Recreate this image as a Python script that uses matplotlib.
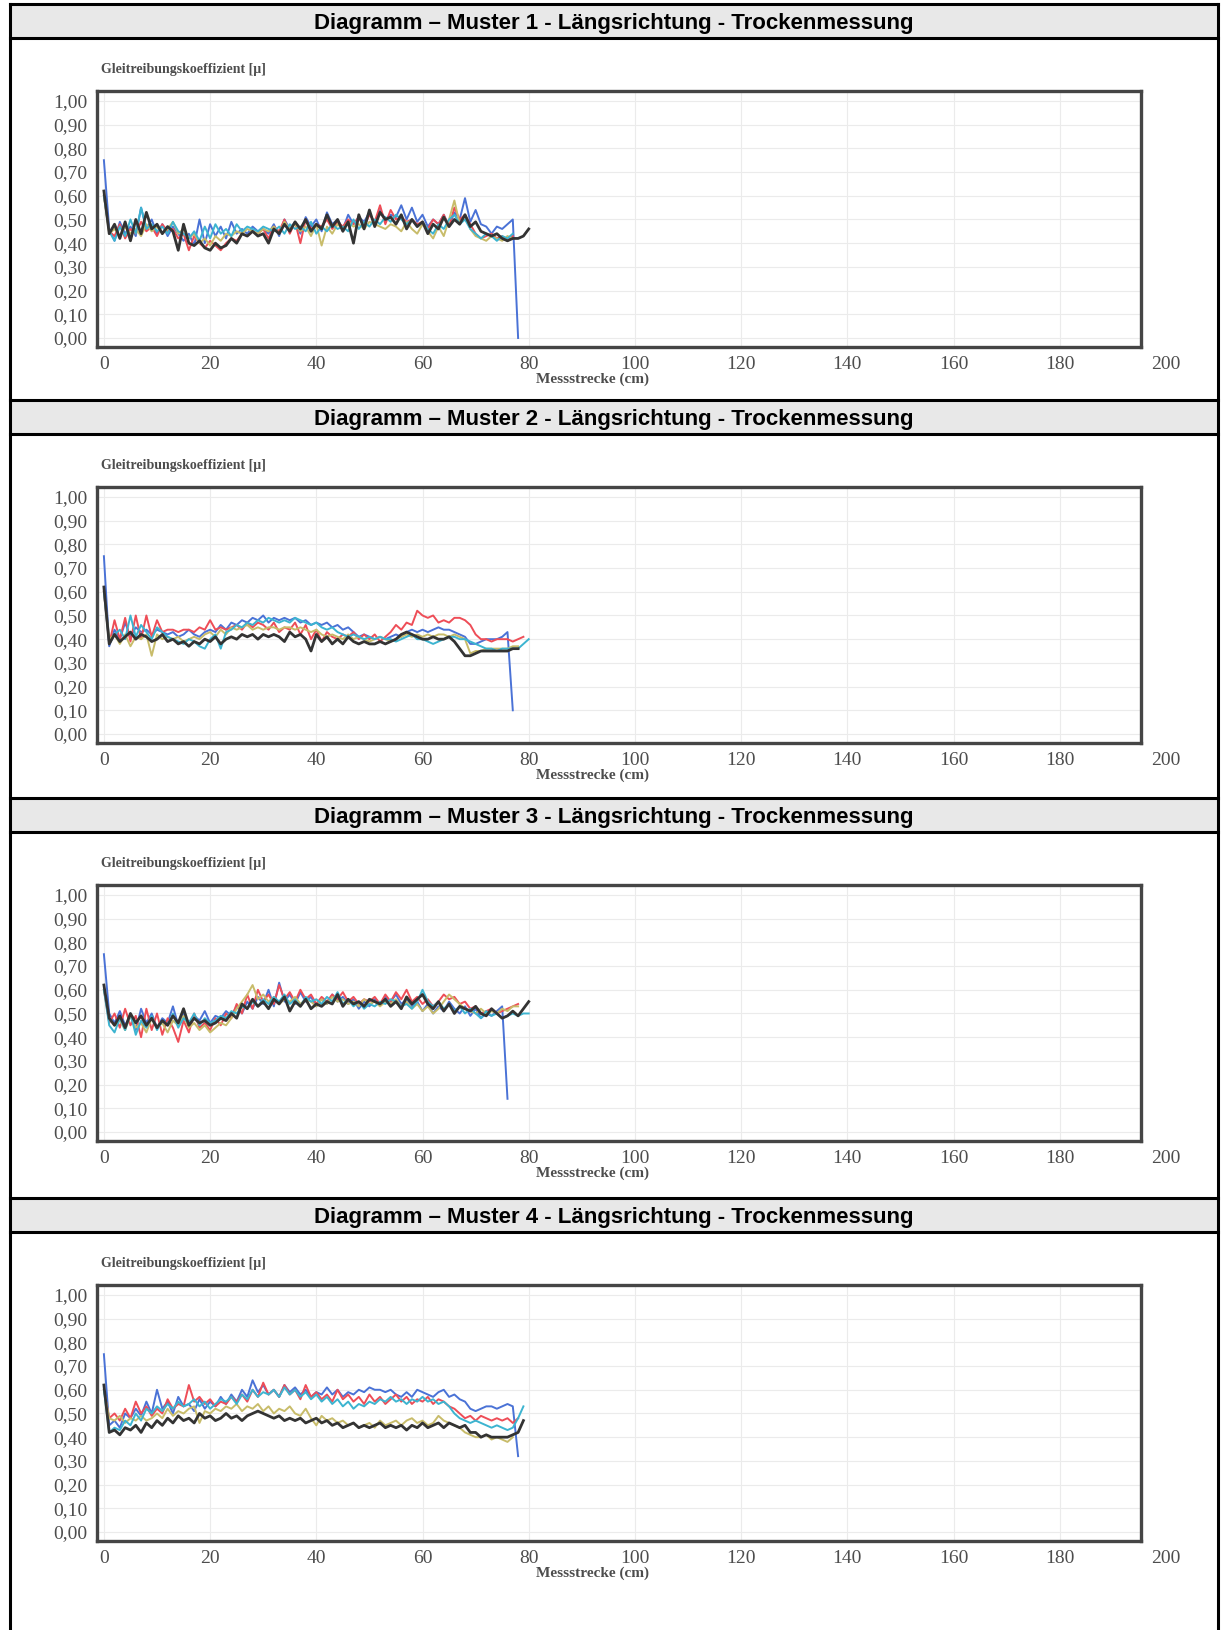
import numpy as np
import matplotlib
matplotlib.use("Agg")
import matplotlib.pyplot as plt
from matplotlib.patches import Rectangle
from matplotlib.lines import Line2D

# ---- data (1 cm steps) ----
titles = ["Diagramm \u2013 Muster 1 - L\u00e4ngsrichtung - Trockenmessung",
          "Diagramm \u2013 Muster 2 - L\u00e4ngsrichtung - Trockenmessung",
          "Diagramm \u2013 Muster 3 - L\u00e4ngsrichtung - Trockenmessung",
          "Diagramm \u2013 Muster 4 - L\u00e4ngsrichtung - Trockenmessung"]
y_title = "Gleitreibungskoeffizient [\u00b5]"
x_title = "Messstrecke (cm)"
x_ticks = [0, 20, 40, 60, 80, 100, 120, 140, 160, 180, 200]
y_ticks = [0.0, 0.1, 0.2, 0.3, 0.4, 0.5, 0.6, 0.7, 0.8, 0.9, 1.0]
y_ticklabels = ["0,00", "0,10", "0,20", "0,30", "0,40", "0,50",
                "0,60", "0,70", "0,80", "0,90", "1,00"]

# Muster 1
blue1 = [0.75,0.46,0.41,0.49,0.44,0.47,0.43,0.55,0.46,0.50,
         0.44,0.48,0.43,0.47,0.44,0.41,0.44,0.39,0.50,0.40,
         0.48,0.43,0.47,0.42,0.49,0.44,0.46,0.44,0.47,0.45,
         0.46,0.44,0.48,0.43,0.50,0.46,0.49,0.44,0.51,0.47,
         0.50,0.45,0.53,0.48,0.50,0.46,0.52,0.48,0.51,0.49,
         0.53,0.48,0.54,0.50,0.52,0.51,0.56,0.50,0.55,0.49,
         0.52,0.47,0.50,0.48,0.52,0.47,0.53,0.50,0.59,0.49,
         0.54,0.48,0.47,0.44,0.47,0.46,0.48,0.50,0.00]
red1 = [0.60,0.45,0.43,0.48,0.42,0.46,0.44,0.49,0.45,0.47,
        0.43,0.48,0.45,0.46,0.42,0.44,0.37,0.43,0.40,0.38,
        0.41,0.39,0.37,0.40,0.42,0.41,0.44,0.43,0.45,0.44,
        0.46,0.42,0.47,0.45,0.50,0.44,0.49,0.40,0.50,0.46,
        0.48,0.47,0.50,0.46,0.49,0.47,0.50,0.48,0.51,0.47,
        0.52,0.49,0.56,0.48,0.54,0.50,0.51,0.49,0.50,0.48,
        0.49,0.46,0.50,0.48,0.52,0.47,0.55,0.50,0.52,0.48,
        0.44,0.42,0.43,0.44,0.42,0.43,0.41,0.43]
yellow1 = [0.60,0.44,0.46,0.43,0.47,0.44,0.46,0.43,0.48,0.45,
           0.47,0.44,0.46,0.49,0.44,0.46,0.42,0.44,0.40,0.42,
           0.39,0.43,0.41,0.44,0.43,0.45,0.44,0.46,0.45,0.44,
           0.46,0.45,0.47,0.44,0.49,0.46,0.48,0.45,0.47,0.43,
           0.48,0.39,0.47,0.44,0.48,0.46,0.49,0.47,0.48,0.46,
           0.49,0.48,0.47,0.46,0.48,0.47,0.45,0.49,0.46,0.44,
           0.48,0.45,0.42,0.47,0.43,0.50,0.58,0.48,0.52,0.46,
           0.43,0.42,0.41,0.43,0.42,0.41,0.43,0.42]
cyan1 = [0.60,0.45,0.41,0.47,0.43,0.50,0.44,0.55,0.46,0.48,
         0.45,0.47,0.44,0.49,0.45,0.44,0.42,0.45,0.41,0.47,
         0.42,0.48,0.44,0.46,0.43,0.48,0.45,0.47,0.46,0.45,
         0.47,0.46,0.45,0.47,0.44,0.48,0.46,0.47,0.45,0.49,
         0.44,0.47,0.45,0.48,0.46,0.47,0.45,0.50,0.46,0.49,
         0.47,0.50,0.48,0.51,0.49,0.52,0.50,0.48,0.50,0.47,
         0.49,0.46,0.44,0.48,0.46,0.50,0.52,0.48,0.50,0.46,
         0.44,0.42,0.44,0.43,0.41,0.43,0.42,0.44]
black1 = [0.62,0.44,0.48,0.42,0.49,0.41,0.50,0.44,0.53,0.46,
          0.48,0.44,0.47,0.45,0.37,0.48,0.40,0.39,0.41,0.38,
          0.37,0.40,0.38,0.39,0.42,0.40,0.44,0.43,0.45,0.43,
          0.44,0.40,0.46,0.44,0.48,0.45,0.49,0.46,0.50,0.45,
          0.48,0.46,0.52,0.47,0.50,0.45,0.49,0.40,0.52,0.46,
          0.54,0.47,0.53,0.50,0.51,0.48,0.52,0.46,0.50,0.47,
          0.49,0.44,0.48,0.46,0.51,0.47,0.50,0.48,0.52,0.47,
          0.49,0.45,0.44,0.43,0.44,0.42,0.41,0.42,0.42,0.43,
          0.46]

# Muster 2
blue2 = [0.75,0.37,0.44,0.40,0.47,0.41,0.45,0.43,0.44,0.42,
         0.44,0.43,0.42,0.43,0.41,0.42,0.44,0.42,0.41,0.43,
         0.44,0.43,0.46,0.44,0.47,0.46,0.48,0.47,0.49,0.48,
         0.50,0.47,0.49,0.48,0.49,0.48,0.49,0.47,0.48,0.46,
         0.47,0.46,0.47,0.45,0.46,0.44,0.45,0.43,0.41,0.42,
         0.41,0.40,0.41,0.40,0.41,0.42,0.41,0.43,0.44,0.43,
         0.44,0.43,0.44,0.45,0.44,0.44,0.43,0.42,0.41,0.38,
         0.38,0.39,0.40,0.40,0.40,0.41,0.43,0.10]
red2 = [0.60,0.38,0.48,0.40,0.49,0.39,0.50,0.40,0.50,0.41,
        0.48,0.43,0.44,0.44,0.43,0.44,0.44,0.43,0.45,0.44,
        0.48,0.44,0.45,0.44,0.45,0.46,0.44,0.47,0.45,0.47,
        0.46,0.44,0.47,0.43,0.45,0.44,0.47,0.42,0.46,0.40,
        0.44,0.39,0.43,0.41,0.40,0.42,0.41,0.43,0.40,0.42,
        0.40,0.42,0.39,0.41,0.43,0.46,0.44,0.47,0.46,0.52,
        0.50,0.49,0.50,0.47,0.48,0.47,0.49,0.49,0.48,0.46,
        0.42,0.40,0.40,0.39,0.40,0.40,0.40,0.39,0.40,0.41]
yellow2 = [0.60,0.40,0.42,0.38,0.42,0.37,0.41,0.40,0.42,0.33,
           0.42,0.40,0.41,0.40,0.41,0.39,0.40,0.41,0.40,0.42,
           0.43,0.41,0.44,0.42,0.45,0.44,0.45,0.46,0.44,0.45,
           0.44,0.45,0.45,0.44,0.45,0.45,0.44,0.45,0.44,0.43,
           0.44,0.42,0.41,0.42,0.41,0.40,0.42,0.40,0.41,0.40,
           0.39,0.40,0.41,0.40,0.39,0.40,0.41,0.42,0.41,0.42,
           0.41,0.42,0.41,0.42,0.42,0.41,0.42,0.41,0.40,0.34,
           0.35,0.35,0.36,0.36,0.36,0.36,0.36,0.37,0.37]
cyan2 = [0.60,0.38,0.42,0.44,0.40,0.50,0.41,0.46,0.43,0.40,
         0.45,0.43,0.41,0.40,0.39,0.38,0.40,0.39,0.37,0.36,
         0.40,0.42,0.36,0.43,0.44,0.46,0.45,0.47,0.46,0.48,
         0.47,0.49,0.48,0.47,0.48,0.47,0.49,0.48,0.47,0.46,
         0.47,0.45,0.44,0.45,0.43,0.42,0.41,0.42,0.41,0.40,
         0.41,0.40,0.41,0.40,0.40,0.39,0.40,0.41,0.42,0.40,
         0.40,0.39,0.38,0.39,0.40,0.41,0.41,0.40,0.40,0.39,
         0.38,0.37,0.36,0.36,0.35,0.36,0.36,0.36,0.36,0.38,
         0.40]
black2 = [0.62,0.38,0.42,0.39,0.41,0.43,0.40,0.42,0.41,0.39,
          0.40,0.42,0.39,0.40,0.38,0.39,0.37,0.39,0.38,0.40,
          0.39,0.41,0.38,0.40,0.41,0.40,0.42,0.41,0.42,0.40,
          0.42,0.41,0.42,0.41,0.39,0.43,0.41,0.42,0.40,0.35,
          0.42,0.39,0.41,0.38,0.40,0.38,0.41,0.39,0.38,0.39,
          0.38,0.38,0.39,0.38,0.39,0.40,0.42,0.43,0.42,0.41,
          0.40,0.40,0.41,0.40,0.40,0.41,0.39,0.36,0.33,0.33,
          0.34,0.35,0.35,0.35,0.35,0.35,0.35,0.36,0.36]

# Muster 3
blue3 = [0.75,0.50,0.46,0.51,0.45,0.49,0.43,0.52,0.46,0.50,
         0.44,0.48,0.46,0.53,0.45,0.50,0.46,0.49,0.47,0.51,
         0.46,0.49,0.48,0.51,0.49,0.53,0.50,0.55,0.52,0.57,
         0.54,0.60,0.53,0.63,0.55,0.58,0.54,0.59,0.55,0.57,
         0.53,0.56,0.54,0.58,0.55,0.57,0.54,0.56,0.52,0.55,
         0.53,0.56,0.54,0.57,0.55,0.58,0.54,0.56,0.53,0.55,
         0.51,0.54,0.50,0.53,0.51,0.55,0.52,0.50,0.53,0.49,
         0.52,0.48,0.50,0.49,0.51,0.53,0.14]
red3 = [0.60,0.46,0.50,0.44,0.52,0.45,0.49,0.40,0.52,0.43,
        0.50,0.41,0.48,0.44,0.38,0.47,0.42,0.50,0.44,0.46,
        0.43,0.48,0.45,0.50,0.48,0.54,0.50,0.58,0.52,0.60,
        0.55,0.58,0.54,0.62,0.56,0.59,0.55,0.60,0.56,0.58,
        0.54,0.57,0.55,0.58,0.56,0.59,0.55,0.57,0.54,0.56,
        0.55,0.57,0.54,0.58,0.55,0.59,0.56,0.60,0.55,0.57,
        0.54,0.56,0.53,0.55,0.58,0.56,0.57,0.54,0.55,0.52,
        0.53,0.50,0.51,0.52,0.50,0.51,0.52,0.53,0.54]
yellow3 = [0.60,0.48,0.45,0.47,0.43,0.49,0.44,0.46,0.42,0.48,
           0.44,0.46,0.42,0.47,0.45,0.49,0.44,0.46,0.43,0.45,
           0.42,0.44,0.46,0.45,0.48,0.52,0.55,0.58,0.62,0.56,
           0.58,0.55,0.57,0.54,0.56,0.55,0.57,0.54,0.56,0.55,
           0.53,0.56,0.54,0.57,0.55,0.56,0.54,0.55,0.53,0.56,
           0.54,0.55,0.53,0.55,0.54,0.56,0.53,0.55,0.52,0.54,
           0.51,0.53,0.50,0.52,0.55,0.58,0.56,0.54,0.52,0.51,
           0.50,0.52,0.50,0.51,0.50,0.52,0.51,0.53,0.53]
cyan3 = [0.60,0.45,0.42,0.48,0.43,0.50,0.41,0.47,0.44,0.49,
         0.43,0.47,0.45,0.50,0.44,0.48,0.46,0.50,0.45,0.48,
         0.46,0.47,0.49,0.48,0.51,0.50,0.53,0.52,0.55,0.53,
         0.56,0.54,0.57,0.55,0.58,0.54,0.56,0.53,0.57,0.55,
         0.56,0.54,0.57,0.55,0.59,0.54,0.56,0.53,0.55,0.52,
         0.54,0.53,0.55,0.54,0.56,0.55,0.53,0.54,0.52,0.55,
         0.60,0.55,0.53,0.55,0.52,0.54,0.51,0.53,0.50,0.52,
         0.50,0.48,0.51,0.49,0.50,0.48,0.49,0.50,0.49,0.50,
         0.50]
black3 = [0.62,0.48,0.45,0.49,0.44,0.50,0.46,0.49,0.45,0.48,
          0.44,0.47,0.45,0.49,0.46,0.52,0.45,0.48,0.46,0.47,
          0.45,0.46,0.48,0.47,0.50,0.48,0.54,0.52,0.56,0.53,
          0.55,0.52,0.56,0.54,0.57,0.51,0.55,0.53,0.56,0.52,
          0.54,0.53,0.55,0.54,0.58,0.53,0.56,0.54,0.55,0.53,
          0.56,0.55,0.54,0.56,0.53,0.55,0.52,0.57,0.54,0.56,
          0.58,0.54,0.52,0.55,0.51,0.54,0.50,0.53,0.52,0.51,
          0.53,0.50,0.49,0.52,0.50,0.48,0.49,0.51,0.49,0.52,
          0.55]

# Muster 4
blue4 = [0.75,0.45,0.47,0.44,0.50,0.48,0.52,0.49,0.55,0.50,
         0.60,0.52,0.55,0.50,0.57,0.53,0.54,0.51,0.56,0.52,
         0.55,0.53,0.57,0.54,0.58,0.55,0.60,0.57,0.64,0.59,
         0.62,0.58,0.60,0.57,0.62,0.59,0.61,0.58,0.60,0.57,
         0.59,0.58,0.61,0.58,0.60,0.57,0.59,0.58,0.60,0.59,
         0.61,0.60,0.60,0.59,0.60,0.58,0.57,0.59,0.57,0.60,
         0.59,0.58,0.57,0.59,0.60,0.57,0.58,0.56,0.55,0.52,
         0.51,0.52,0.53,0.53,0.52,0.53,0.54,0.53,0.32]
red4 = [0.60,0.48,0.50,0.47,0.52,0.48,0.55,0.50,0.53,0.49,
        0.52,0.50,0.56,0.52,0.54,0.53,0.62,0.55,0.57,0.54,
        0.56,0.53,0.55,0.54,0.57,0.55,0.58,0.55,0.60,0.57,
        0.63,0.58,0.60,0.57,0.62,0.58,0.60,0.56,0.62,0.57,
        0.59,0.56,0.58,0.55,0.60,0.56,0.58,0.55,0.57,0.54,
        0.58,0.55,0.57,0.54,0.56,0.58,0.55,0.57,0.54,0.56,
        0.55,0.57,0.54,0.56,0.55,0.53,0.52,0.50,0.48,0.49,
        0.47,0.49,0.48,0.47,0.48,0.47,0.48,0.46,0.48]
yellow4 = [0.60,0.48,0.47,0.49,0.46,0.48,0.47,0.49,0.47,0.48,
           0.50,0.48,0.52,0.49,0.51,0.50,0.52,0.53,0.46,0.51,
           0.50,0.52,0.51,0.53,0.52,0.54,0.51,0.53,0.52,0.54,
           0.51,0.53,0.50,0.52,0.51,0.53,0.50,0.49,0.52,0.48,
           0.45,0.49,0.47,0.48,0.46,0.47,0.45,0.46,0.44,0.45,
           0.46,0.44,0.47,0.45,0.46,0.47,0.45,0.47,0.48,0.46,
           0.47,0.45,0.46,0.49,0.47,0.46,0.45,0.44,0.42,0.41,
           0.40,0.40,0.41,0.39,0.40,0.39,0.38,0.40]
cyan4 = [0.60,0.42,0.44,0.43,0.47,0.45,0.50,0.47,0.52,0.50,
         0.53,0.51,0.54,0.52,0.55,0.53,0.54,0.56,0.53,0.55,
         0.52,0.54,0.56,0.55,0.57,0.54,0.58,0.56,0.60,0.57,
         0.59,0.58,0.60,0.57,0.61,0.58,0.60,0.57,0.59,0.56,
         0.58,0.55,0.57,0.54,0.56,0.53,0.55,0.52,0.54,0.53,
         0.55,0.54,0.56,0.55,0.57,0.55,0.56,0.54,0.56,0.55,
         0.57,0.55,0.56,0.54,0.55,0.53,0.50,0.48,0.47,0.46,
         0.47,0.46,0.45,0.44,0.45,0.44,0.43,0.44,0.48,0.53]
black4 = [0.62,0.42,0.43,0.41,0.44,0.43,0.45,0.42,0.46,0.44,
          0.47,0.45,0.48,0.46,0.49,0.47,0.48,0.46,0.50,0.48,
          0.49,0.47,0.48,0.50,0.48,0.49,0.47,0.49,0.50,0.51,
          0.50,0.49,0.48,0.49,0.47,0.48,0.47,0.48,0.46,0.47,
          0.48,0.46,0.47,0.45,0.46,0.44,0.45,0.46,0.44,0.45,
          0.44,0.45,0.46,0.44,0.45,0.44,0.45,0.43,0.45,0.44,
          0.46,0.44,0.45,0.46,0.44,0.46,0.45,0.44,0.45,0.42,
          0.42,0.40,0.41,0.40,0.40,0.40,0.40,0.41,0.42,0.47]

panels = [
    [blue1, red1, yellow1, cyan1, black1],
    [blue2, red2, yellow2, cyan2, black2],
    [blue3, red3, yellow3, cyan3, black3],
    [blue4, red4, yellow4, cyan4, black4],
]
colors = ["#4a72d6", "#ee4d57", "#c8bc6a", "#3cb4d0", "#333333"]
widths = [1.4, 1.4, 1.4, 1.4, 2.0]

# ---- layout in pixels ----
W, H = 1222, 1630
fig = plt.figure(figsize=(W / 100, H / 100), dpi=100)

def fx(px):
    return px / W

def fy(py):
    return 1 - py / H

serif = "Liberation Serif"
sans = "Liberation Sans"
grey = "#4d4d4d"

tab_l, tab_r = 10, 1218
tops = [4, 400, 798, 1198]
head_h = 34

# table frame
fig.add_artist(Line2D([fx(tab_l), fx(tab_l)], [fy(tops[0]), 0], color="black", lw=2.2))
fig.add_artist(Line2D([fx(tab_r), fx(tab_r)], [fy(tops[0]), 0], color="black", lw=2.2))

for i, T in enumerate(tops):
    fig.add_artist(Rectangle((fx(tab_l), fy(T + head_h)), fx(tab_r - tab_l), head_h / H,
                             facecolor="#e8e8e8", edgecolor="none", zorder=0))
    for yy in (T, T + head_h):
        fig.add_artist(Line2D([fx(tab_l), fx(tab_r)], [fy(yy), fy(yy)], color="black", lw=2.2))
    fig.text(fx((tab_l + tab_r) / 2), fy(T + head_h / 2 + 2), titles[i], ha="center", va="center",
             fontsize=16, fontweight="bold", family=sans, color="black")

    ax_l, ax_r = 97, 1141
    ax_t, ax_b = T + 87, T + 343
    ax = fig.add_axes([fx(ax_l), fy(ax_b), fx(ax_r - ax_l), (ax_b - ax_t) / H])
    ax.set_xlim(-1.3, 195.3)
    ax.set_ylim(-0.038, 1.042)
    ax.set_xticks([t for t in x_ticks if t <= 195])
    ax.set_xticklabels([])
    ax.set_yticks(y_ticks)
    ax.set_yticklabels(y_ticklabels)
    ax.tick_params(length=0, labelsize=14, labelcolor=grey, pad=7)
    for lab in ax.get_yticklabels():
        lab.set_family(serif)
    # x tick labels (the 200 label sits just outside the frame)
    for t in x_ticks:
        ax.text(t, -0.11, str(t), ha="center", va="center", fontsize=14,
                family=serif, color=grey, clip_on=False)
    ax.grid(True, color="#ebebeb", lw=0.8)
    ax.set_axisbelow(True)
    for sp in ax.spines.values():
        sp.set_color("#454545")
        sp.set_linewidth(2.4)

    for vals, c, w in zip(panels[i], colors, widths):
        ax.plot(np.arange(len(vals)), vals, color=c, lw=w, clip_on=False)

    fig.text(fx(101), fy(T + 65), y_title, ha="left", va="center", fontsize=10,
             fontweight="bold", family=serif, color=grey)
    fig.text(fx(592), fy(T + 375), x_title, ha="center", va="center", fontsize=11,
             fontweight="bold", family=serif, color=grey)

fig.savefig("out.png", dpi=100)
